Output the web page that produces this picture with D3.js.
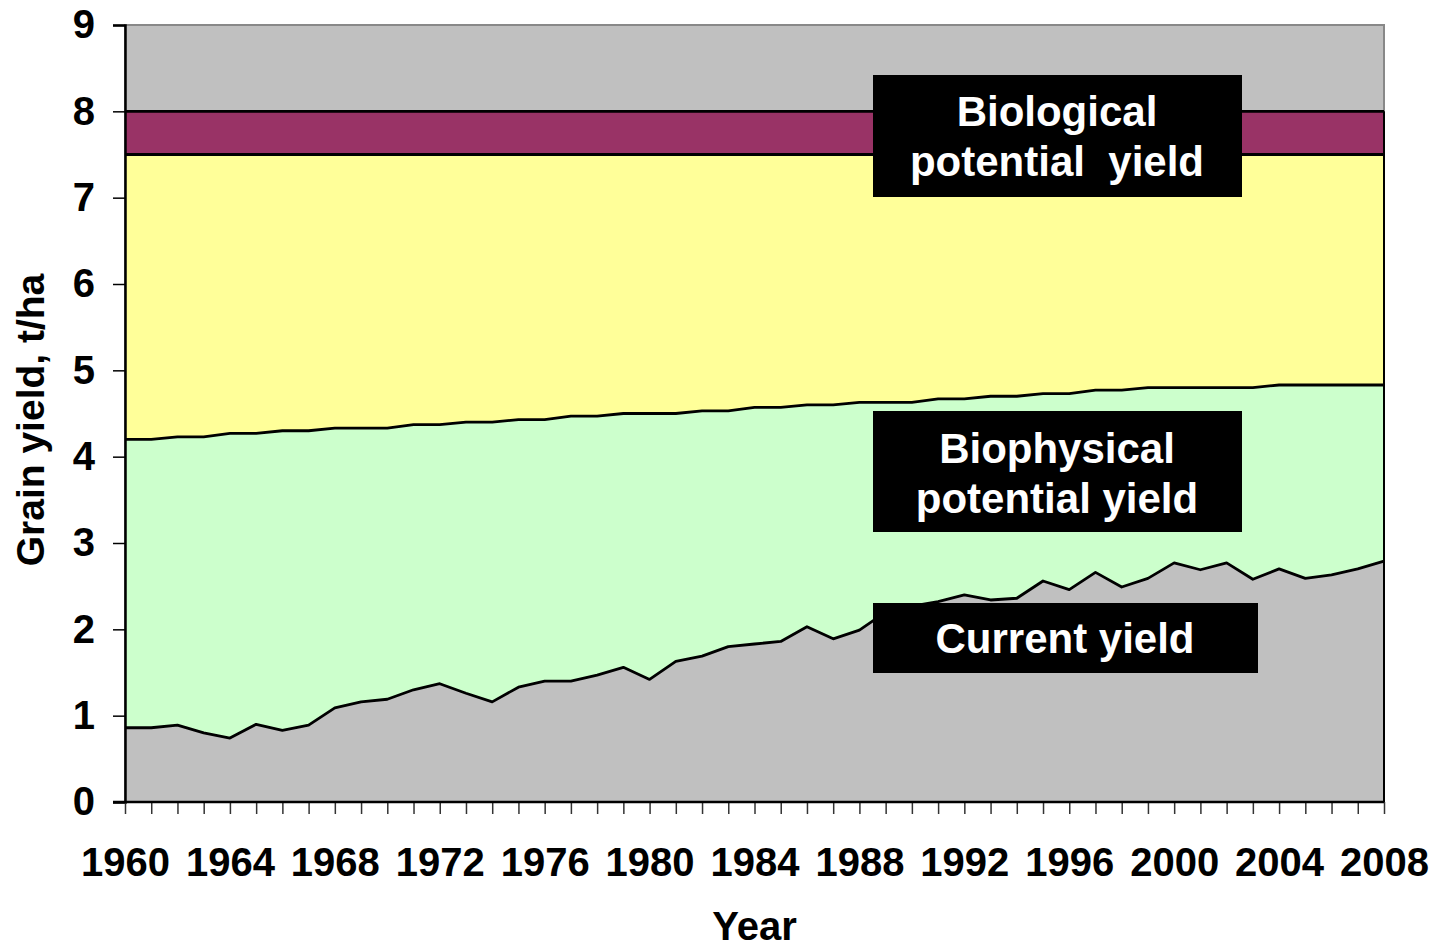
<!DOCTYPE html>
<html>
<head>
<meta charset="utf-8">
<script src="https://cdn.jsdelivr.net/npm/d3@7"></script>
<style>
  body { margin: 0; background: #fff; }
  svg text { font-family: "Liberation Sans", Arial, sans-serif; font-weight: bold; }
</style>
</head>
<body>
<svg width="1436" height="947"></svg>
<script>
// years on the x axis
var years = [1960, 1961, 1962, 1963, 1964, 1965, 1966, 1967, 1968, 1969,
             1970, 1971, 1972, 1973, 1974, 1975, 1976, 1977, 1978, 1979,
             1980, 1981, 1982, 1983, 1984, 1985, 1986, 1987, 1988, 1989,
             1990, 1991, 1992, 1993, 1994, 1995, 1996, 1997, 1998, 1999,
             2000, 2001, 2002, 2003, 2004, 2005, 2006, 2007, 2008]

// current (farm) yield, t/ha
var currentYield = [0.86, 0.86, 0.89, 0.80, 0.74, 0.90, 0.83, 0.89, 1.09, 1.16,
                    1.19, 1.30, 1.37, 1.26, 1.16, 1.33, 1.40, 1.40, 1.47, 1.56,
                    1.42, 1.63, 1.69, 1.80, 1.83, 1.86, 2.03, 1.89, 1.99, 2.20,
                    2.27, 2.32, 2.40, 2.34, 2.36, 2.56, 2.46, 2.66, 2.49, 2.59,
                    2.77, 2.69, 2.77, 2.58, 2.70, 2.59, 2.63, 2.70, 2.79]

// biophysical potential yield, t/ha
var biophysYield = [4.20, 4.20, 4.23, 4.23, 4.27, 4.27, 4.30, 4.30, 4.33, 4.33,
                    4.33, 4.37, 4.37, 4.40, 4.40, 4.43, 4.43, 4.47, 4.47, 4.50,
                    4.50, 4.50, 4.53, 4.53, 4.57, 4.57, 4.60, 4.60, 4.63, 4.63,
                    4.63, 4.67, 4.67, 4.70, 4.70, 4.73, 4.73, 4.77, 4.77, 4.80,
                    4.80, 4.80, 4.80, 4.80, 4.83, 4.83, 4.83, 4.83, 4.83]

// biological potential band (constant over the years)
var biologicalLow = 7.5
var biologicalHigh = 8.0

var yTicks = [0, 1, 2, 3, 4, 5, 6, 7, 8, 9]
var xLabelYears = [1960, 1964, 1968, 1972, 1976, 1980, 1984, 1988, 1992, 1996, 2000, 2004, 2008]

var rows = years.map(function(yr, i) {
    return { year: yr, cur: currentYield[i], bio: biophysYield[i] }
})

var svg = d3.select('svg')
// note: "top" is taken by window.top, so plot edges get their own names
var plotL = 125, plotR = 1384, plotT = 25, plotB = 802

var x = d3.scaleLinear().domain([1960, 2008]).range([plotL, plotR])
var y = d3.scaleLinear().domain([0, 9]).range([plotB, plotT])

// plot background (grey shows above the biological band)
svg.append('rect')
    .attr('x', plotL)
    .attr('y', plotT)
    .attr('width', plotR - plotL)
    .attr('height', plotB - plotT)
    .attr('fill', '#c0c0c0')
    .attr('stroke', '#888')
    .attr('stroke-width', 2)

function band(lo, hi) {
    return d3.area()
        .x(function(d) { return x(d.year) })
        .y0(function(d) { return y(lo(d)) })
        .y1(function(d) { return y(hi(d)) })
}

// stacked areas
svg.append('path').datum(rows)
    .attr('fill', '#993366')
    .attr('d', band(function() { return biologicalLow }, function() { return biologicalHigh }))
svg.append('path').datum(rows)
    .attr('fill', '#ffff99')
    .attr('d', band(function(d) { return d.bio }, function() { return biologicalLow }))
svg.append('path').datum(rows)
    .attr('fill', '#ccffcc')
    .attr('d', band(function(d) { return d.cur }, function(d) { return d.bio }))
svg.append('path').datum(rows)
    .attr('fill', '#c0c0c0')
    .attr('d', band(function() { return 0 }, function(d) { return d.cur }))

// boundary lines
var lineOf = function(f) {
    return d3.line().x(function(d) { return x(d.year) }).y(function(d) { return y(f(d)) })
}
var bounds = [
    function(d) { return d.cur },
    function(d) { return d.bio },
    function() { return biologicalLow },
    function() { return biologicalHigh }
]
bounds.forEach(function(f) {
    svg.append('path').datum(rows)
        .attr('fill', 'none')
        .attr('stroke', '#000')
        .attr('stroke-width', 2.8)
        .attr('stroke-linejoin', 'round')
        .attr('d', lineOf(f))
})
// right edge below the grey top
svg.append('line')
    .attr('x1', plotR).attr('x2', plotR)
    .attr('y1', y(biologicalHigh)).attr('y2', plotB)
    .attr('stroke', '#000').attr('stroke-width', 2)

// y axis
var yAxis = svg.append('g')
    .attr('transform', 'translate(' + plotL + ',0)')
    .call(d3.axisLeft(y).tickValues(yTicks).tickSize(12).tickPadding(18).tickFormat(d3.format('d')))
yAxis.select('.domain').attr('stroke', '#000').attr('stroke-width', 2.5)
yAxis.selectAll('.tick line').attr('stroke', '#000').attr('stroke-width', 1.5)
yAxis.selectAll('text').attr('font-size', 40).attr('fill', '#000')

// x axis, a tick for every year
var xAxis = svg.append('g')
    .attr('transform', 'translate(0,' + plotB + ')')
    .call(d3.axisBottom(x).tickValues(years).tickSize(12).tickPadding(34)
        .tickFormat(function(d) { return xLabelYears.indexOf(d) >= 0 ? d : '' }))
xAxis.select('.domain').remove()
xAxis.append('line')
    .attr('x1', plotL - 12).attr('x2', plotR)
    .attr('stroke', '#000').attr('stroke-width', 2.5)
xAxis.selectAll('.tick line').attr('stroke', '#333').attr('stroke-width', 1.5)
xAxis.selectAll('text').attr('font-size', 40).attr('fill', '#000')

// axis titles
svg.append('text')
    .attr('x', (plotL + plotR) / 2)
    .attr('y', 940)
    .attr('text-anchor', 'middle')
    .attr('font-size', 40)
    .text('Year')

svg.append('text')
    .attr('transform', 'translate(44,420) rotate(-90)')
    .attr('text-anchor', 'middle')
    .attr('font-size', 39)
    .text('Grain yield, t/ha')

// black label boxes
var labels = [
    { x: 873, y: 75, w: 369, h: 122, cx: 1057, lines: ['Biological', 'potential  yield'], base: 126 },
    { x: 873, y: 411, w: 369, h: 121, cx: 1057, lines: ['Biophysical', 'potential yield'], base: 463 },
    { x: 873, y: 603, w: 385, h: 70, cx: 1065, lines: ['Current yield'], base: 653 }
]
labels.forEach(function(l) {
    svg.append('rect')
        .attr('x', l.x).attr('y', l.y)
        .attr('width', l.w).attr('height', l.h)
        .attr('fill', '#000')
    l.lines.forEach(function(t, i) {
        svg.append('text')
            .attr('x', l.cx)
            .attr('y', l.base + i * 50)
            .attr('text-anchor', 'middle')
            .attr('font-size', 42)
            .attr('fill', '#fff')
            .style('white-space', 'pre')
            .text(t)
    })
})
</script>
</body>
</html>
